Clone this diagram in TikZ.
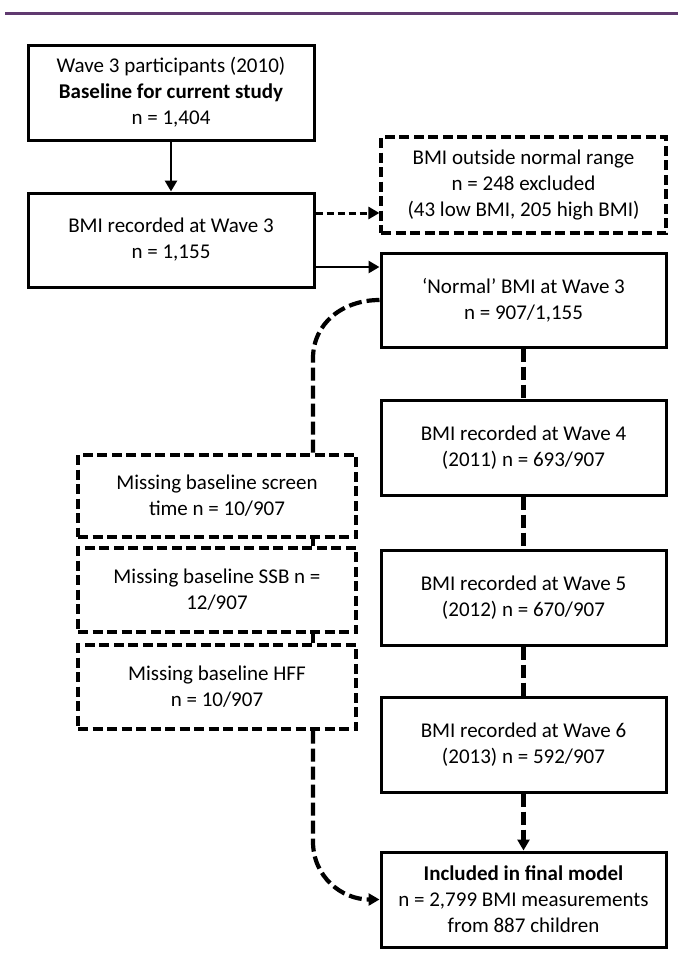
\documentclass[tikz,border=0pt]{standalone}
\usepackage{fontspec}
\setmainfont{Carlito}
\usetikzlibrary{arrows.meta}
\definecolor{topline}{RGB}{96,58,112}
\begin{document}
\begin{tikzpicture}[x=1pt,y=-1pt,
  txt/.style={align=center, inner sep=0pt, font=\fontsize{21}{26}\selectfont},
  solidbox/.style={txt, draw, line width=3pt, minimum width=286pt, minimum height=95pt},
  dashbox/.style={txt, draw, line width=3.2pt, dash pattern=on 10pt off 4.5pt},
  tip/.style={-{Triangle[length=11pt,width=12pt]}},
  solidconn/.style={line width=2.8pt},
  thinconn/.style={line width=3pt, dash pattern=on 7pt off 4pt},
  thickconn/.style={line width=4.2pt, dash pattern=on 13pt off 5pt},
]
\useasboundingbox (0,0) rectangle (678,967);
\fill[white] (0,0) rectangle (678,967);
\draw[topline, line width=2.8pt] (5,13.5) -- (678,13.5);

\node[solidbox] (b1) at (171,92.5) {Wave 3 participants (2010)\\\textbf{Baseline for current study}\\n = 1,404};
\node[solidbox, minimum height=94pt] (b2) at (171,240) {BMI recorded at Wave 3\\n = 1,155};
\node[dashbox, minimum width=285pt, minimum height=96pt] (ex) at (523.5,185) {BMI outside normal range\\n = 248 excluded\\(43 low BMI, 205 high BMI)};
\node[solidbox, minimum width=285pt, minimum height=94pt] (nm) at (523.5,300) {‘Normal’ BMI at Wave 3\\n = 907/1,155};
\node[solidbox, minimum width=285pt] (w4) at (523.5,447.5) {BMI recorded at Wave 4\\(2011) n = 693/907};
\node[solidbox, minimum width=285pt] (w5) at (523.5,597.5) {BMI recorded at Wave 5\\(2012) n = 670/907};
\node[solidbox, minimum width=285pt] (w6) at (523.5,744.5) {BMI recorded at Wave 6\\(2013) n = 592/907};
\node[solidbox, minimum width=285pt] (fin) at (523.5,899.5) {\textbf{Included in final model}\\n = 2,799 BMI measurements\\from 887 children};
\node[dashbox, minimum width=278pt, minimum height=82pt] (ms) at (217,496) {Missing baseline screen\\time n = 10/907};
\node[dashbox, minimum width=278pt, minimum height=84pt] (ssb) at (217,590) {Missing baseline SSB n =\\12/907};
\node[dashbox, minimum width=278pt, minimum height=84pt] (hff) at (217,687) {Missing baseline HFF\\n = 10/907};

\draw[solidconn, tip] (b1) -- (b2);
\coordinate (a1) at ([yshift=27pt]b2.east);
\draw[thinconn, tip] (a1) -- (a1 -| ex.west);
\coordinate (a2) at ([yshift=-27pt]b2.east);
\draw[solidconn, tip] (a2) -- (a2 -| nm.west);
\draw[thickconn] (nm) -- (w4);
\draw[thickconn] (w4) -- (w5);
\draw[thickconn] (w5) -- (w6);
\draw[thickconn, tip] (w6) -- (fin);
\coordinate (c2) at ([xshift=96pt]ms.north);
\draw[thickconn] (nm.west) .. controls +(-37,0) and +(0,-35) .. ([yshift=95pt]c2) -- (c2);
\draw[thickconn] ([xshift=96pt]ms.south) -- ([xshift=96pt]ssb.north);
\draw[thickconn] ([xshift=96pt]ssb.south) -- ([xshift=96pt]hff.north);
\coordinate (c3) at ([xshift=96pt]hff.south);
\draw[thickconn, tip] (c3) -- ([yshift=-111pt]c3) .. controls +(0,35) and +(-38,0) .. (fin.west);
\end{tikzpicture}
\end{document}
